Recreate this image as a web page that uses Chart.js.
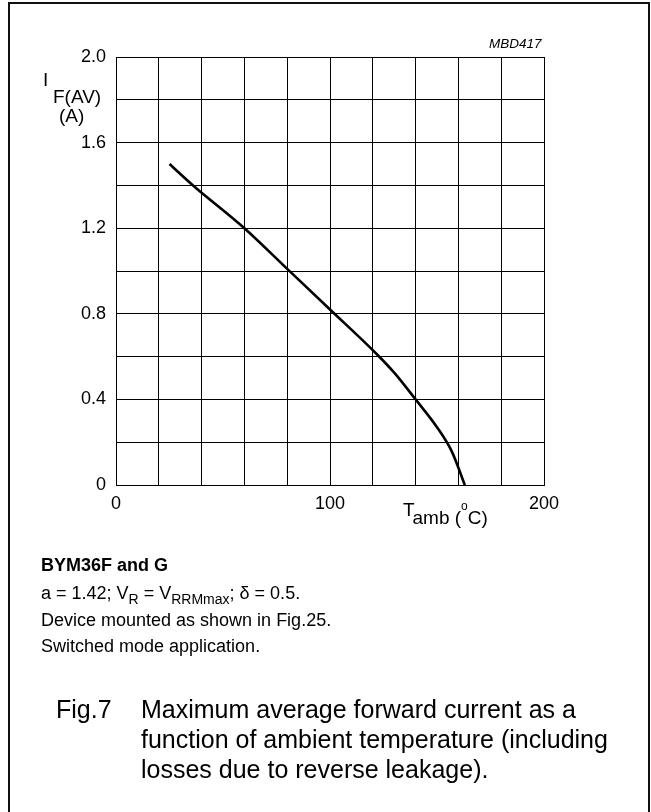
<!DOCTYPE html>
<html>
<head>
<meta charset="utf-8">
<script src="https://cdn.jsdelivr.net/npm/chart.js@4.4.1/dist/chart.umd.min.js"></script>
<style>
  html, body { margin: 0; padding: 0; background: #fff; }
  #page { position: relative; width: 651px; height: 812px; overflow: hidden; font-family: "Liberation Sans", Arial, sans-serif; color: #000; }
  #frame { position: absolute; left: 8px; top: 2px; width: 642px; height: 830px; border: 2px solid #111; box-sizing: border-box; }
  canvas { position: absolute; left: 0; top: 0; }
  .t { position: absolute; white-space: nowrap; line-height: 1; }
  .lo { position: relative; }
</style>
</head>
<body>
<div id="page">
  <div id="frame"></div>
  <canvas id="c" width="651" height="812"></canvas>

  <div class="t" style="left:489px; top:37px; font-size:13.5px; font-style:italic;">MBD417</div>

  <div class="t" style="left:43px; top:70px; font-size:19px;">I</div>
  <div class="t" style="left:53px; top:87px; font-size:19px;">F(AV)</div>
  <div class="t" style="left:59px; top:106px; font-size:19px;">(A)</div>

  <div class="t" style="left:403px; top:500px; font-size:19px;">T<span class="lo" style="top:8px;">amb (<span style="font-size:12px; position:relative; top:-14px;">o</span>C)</span></div>

  <div class="t" style="left:41px; top:556px; font-size:18px; font-weight:bold;">BYM36F and G</div>
  <div class="t" style="left:41px; top:584px; font-size:18px;">a = 1.42; V<span class="lo" style="font-size:14px; top:5px;">R</span> = V<span class="lo" style="font-size:14px; top:5px;">RRMmax</span>; δ = 0.5.</div>
  <div class="t" style="left:41px; top:611px; font-size:18px;">Device mounted as shown in Fig.25.</div>
  <div class="t" style="left:41px; top:637px; font-size:18px;">Switched mode application.</div>

  <div class="t" style="left:56px; top:697px; font-size:25px;">Fig.7</div>
  <div class="t" style="left:141px; top:697px; font-size:25px;">Maximum average forward current as a</div>
  <div class="t" style="left:141px; top:727px; font-size:25px;">function of ambient temperature (including</div>
  <div class="t" style="left:141px; top:757px; font-size:25px;">losses due to reverse leakage).</div>
</div>
<script>
// Ambient temperature (°C) and maximum average forward current (A)
const tempC = [25, 36, 60, 80, 100, 122, 130, 140, 150, 157, 163];
const currentA = [1.50, 1.40, 1.20, 1.01, 0.82, 0.61, 0.525, 0.40, 0.27, 0.155, 0];

// Labelled ticks; the remaining grid lines stay unlabelled
const xTickLabels = ['0', '100', '200'];
const xTickValues = [0, 100, 200];
const yTickLabels = ['0', '0.4', '0.8', '1.2', '1.6', '2.0'];
const yTickValues = [0, 0.4, 0.8, 1.2, 1.6, 2.0];

function labelFor(values, labels, v) {
  const i = values.findIndex(t => Math.abs(t - v) < 1e-6);
  return i >= 0 ? labels[i] : '';
}

const font = { family: '"Liberation Sans", Arial, sans-serif', size: 18 };

new Chart(document.getElementById('c'), {
  type: 'scatter',
  data: {
    datasets: [{
      data: tempC.map((t, i) => ({ x: t, y: currentA[i] })),
      showLine: true,
      borderColor: '#000',
      borderWidth: 2.6,
      pointRadius: 0,
      cubicInterpolationMode: 'monotone',
      fill: false
    }]
  },
  options: {
    responsive: false,
    animation: false,
    devicePixelRatio: 1,
    layout: { padding: { left: 0, top: 57, right: 107, bottom: 287 } },
    plugins: { legend: { display: false }, tooltip: { enabled: false } },
    scales: {
      x: {
        type: 'linear', min: 0, max: 200,
        afterFit: s => { s.height = 40; },
        grid: { color: '#000', lineWidth: 1, drawTicks: false },
        border: { color: '#000', width: 1 },
        ticks: {
          stepSize: 20, autoSkip: false, padding: 8, color: '#000', font,
          maxRotation: 0,
          callback: v => labelFor(xTickValues, xTickLabels, v)
        }
      },
      y: {
        type: 'linear', min: 0, max: 2.0,
        afterFit: s => { s.width = 116; },
        grid: { color: '#000', lineWidth: 1, drawTicks: false },
        border: { color: '#000', width: 1 },
        ticks: {
          stepSize: 0.2, autoSkip: false, padding: 10, color: '#000', font,
          callback: v => labelFor(yTickValues, yTickLabels, v)
        }
      }
    }
  }
});
</script>
</body>
</html>
